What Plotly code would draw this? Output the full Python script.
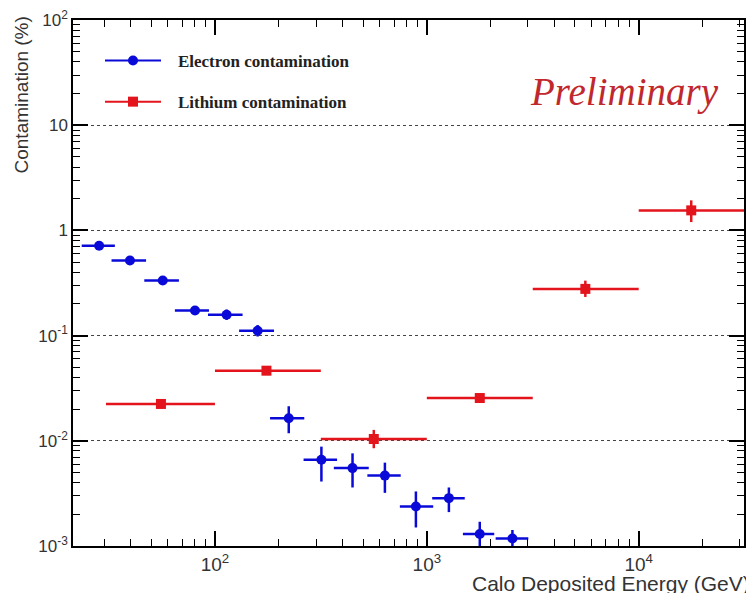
import plotly.graph_objects as go

# ---------------- data (GeV, %) ----------------
e_x = [28.4, 39.7, 56.7, 80.5, 113.5, 159, 223, 318, 446, 634, 888, 1271, 1778, 2535]
e_xlo = [23.5, 32.5, 46.4, 64.7, 92.7, 130, 182, 262, 364, 524, 746, 1060, 1480, 2113]
e_xhi = [33.7, 47.3, 67.6, 93.7, 135, 190, 264, 377, 532, 753, 1072, 1510, 2080, 3013]
e_y = [0.715, 0.518, 0.334, 0.173, 0.158, 0.111, 0.0164, 0.0066, 0.0055, 0.00467, 0.00237, 0.00285, 0.0013, 0.00118]
e_yhi = [0.765, 0.55, 0.355, 0.186, 0.177, 0.126, 0.0213, 0.0088, 0.0076, 0.0062, 0.0033, 0.0036, 0.0017, 0.00142]
e_ylo = [0.67, 0.49, 0.312, 0.161, 0.141, 0.098, 0.0118, 0.0041, 0.0036, 0.0032, 0.0015, 0.0021, 0.00095, 0.0009]

li_x = [55.6, 175, 562, 1778, 5600, 17700]
li_xlo = [30.6, 100, 316, 1000, 3162, 10000]
li_xhi = [100, 316, 1000, 3162, 10000, 31623]
li_y = [0.0224, 0.0464, 0.0104, 0.0255, 0.278, 1.55]
li_yhi = [0.0235, 0.0485, 0.0127, 0.0268, 0.333, 1.93]
li_ylo = [0.0213, 0.0443, 0.0085, 0.0242, 0.233, 1.2]

x_tickvals = [100, 1000, 10000]
x_ticktext = ["10<sup>2</sup>", "10<sup>3</sup>", "10<sup>4</sup>"]
y_tickvals = [0.001, 0.01, 0.1, 1, 10, 100]
y_ticktext = ["10<sup>-3</sup>", "10<sup>-2</sup>", "10<sup>-1</sup>", "1", "10", "10<sup>2</sup>"]

series_names = ["Electron contamination", "Lithium contamination"]

BLUE = "#0a0ad8"
RED = "#e3141c"

X_RANGE = [1.33, 4.497]
Y_RANGE = [-3, 2]


def err(vals, lo, hi):
    plus = [h - v for v, h in zip(vals, hi)]
    minus = [v - l for v, l in zip(vals, lo)]
    return plus, minus


fig = go.Figure()

# plain frame subplot (x2/y2) that carries the ROOT-style inside ticks
fig.add_trace(go.Scatter(
    x=e_x[:1], y=e_y[:1], xaxis="x2", yaxis="y2", mode="markers",
    marker=dict(opacity=0, size=1), showlegend=False, hoverinfo="skip",
))

for name, xs, xlo, xhi, ys, ylo, yhi, col, sym in [
    (series_names[0], e_x, e_xlo, e_xhi, e_y, e_ylo, e_yhi, BLUE, "circle"),
    (series_names[1], li_x, li_xlo, li_xhi, li_y, li_ylo, li_yhi, RED, "square"),
]:
    xp, xm = err(xs, xlo, xhi)
    yp, ym = err(ys, ylo, yhi)
    fig.add_trace(go.Scatter(
        x=xs, y=ys, mode="markers", showlegend=False,
        marker=dict(symbol=sym, size=10, color=col),
        error_x=dict(type="data", symmetric=False, array=xp, arrayminus=xm,
                     color=col, thickness=2.5, width=0),
        error_y=dict(type="data", symmetric=False, array=yp, arrayminus=ym,
                     color=col, thickness=2.5, width=0),
    ))

# legend entries
for i, (name, col, sym) in enumerate([(series_names[0], BLUE, "circle"),
                                       (series_names[1], RED, "square")]):
    fig.add_trace(go.Scatter(
        x=[None], y=[None], mode="lines+markers",
        name="\u2002\u2009<b>" + name + "</b>",
        legendgroup="g%d" % i,
        line=dict(color=col, width=2),
        marker=dict(symbol=sym, size=10, color=col),
    ))

L, R, T, B = 73, 2, 20, 47
W, H = 746, 593
pw, ph = W - L - R, H - T - B


def px(xp):
    return (xp - L) / pw


def py(yp):
    return (H - B - yp) / ph


TICKCOL = "black"

fig.update_layout(
    xaxis=dict(
        type="log", range=X_RANGE, showline=True, linecolor="black", linewidth=1.5,
        mirror="allticks", ticks="inside", ticklen=15, tickwidth=1.5, tickcolor=TICKCOL,
        tickmode="array", tickvals=x_tickvals, ticktext=x_ticktext, showgrid=False,
        zeroline=False,
        tickfont=dict(family="Liberation Sans, Arial", color="#333333", size=19),
        minor=dict(ticks="inside", ticklen=7, tickwidth=1.2, tickcolor=TICKCOL,
                   dtick="D1", showgrid=False),
    ),
    yaxis=dict(
        type="log", range=Y_RANGE, showline=True, linecolor="black", linewidth=1.5,
        mirror="allticks", ticks="inside", ticklen=15, tickwidth=1.5, tickcolor=TICKCOL,
        tickmode="array", tickvals=y_tickvals, ticktext=y_ticktext,
        showgrid=True, gridcolor="#444444", griddash="dot", zeroline=False,
        tickfont=dict(family="Liberation Sans, Arial", color="#333333", size=17),
        minor=dict(ticks="inside", ticklen=7, tickwidth=1.2, tickcolor=TICKCOL,
                   dtick="D1", showgrid=False),
    ),
    xaxis2=dict(
        type="log", range=X_RANGE, overlaying="x", anchor="y2", side="bottom",
        showline=True, linecolor="black", linewidth=1.5, mirror="allticks",
        ticks="inside", ticklen=15, tickwidth=1.5, tickcolor=TICKCOL,
        tickvals=x_tickvals, showticklabels=False, showgrid=False, zeroline=False,
        minor=dict(ticks="inside", ticklen=7, tickwidth=1.2, tickcolor=TICKCOL,
                   dtick="D1", showgrid=False),
    ),
    yaxis2=dict(
        type="log", range=Y_RANGE, overlaying="y", anchor="x2", side="left",
        showline=True, linecolor="black", linewidth=1.5, mirror="allticks",
        ticks="inside", ticklen=15, tickwidth=1.5, tickcolor=TICKCOL,
        tickvals=y_tickvals, showticklabels=False, showgrid=False, zeroline=False,
        minor=dict(ticks="inside", ticklen=7, tickwidth=1.2, tickcolor=TICKCOL,
                   dtick="D1", showgrid=False),
    ),
    width=W, height=H,
    margin=dict(l=L, r=R, t=T, b=B, autoexpand=False),
    plot_bgcolor="white", paper_bgcolor="white",
    legend=dict(
        x=px(100), y=py(43), xanchor="left", yanchor="top",
        bgcolor="rgba(0,0,0,0)", traceorder="grouped", tracegroupgap=16,
        font=dict(family="Liberation Serif, Times New Roman", size=17, color="#222222"),
        itemwidth=56,
    ),
    annotations=[
        dict(text="<i>Preliminary</i>", xref="paper", yref="paper",
             x=px(721), y=py(92), xanchor="right", yanchor="middle", showarrow=False,
             font=dict(family="Liberation Serif, Times New Roman", size=39, color="#c0282d")),
        dict(text="Contamination (%)", xref="paper", yref="paper", textangle=-90,
             x=px(21), y=py(15), xanchor="center", yanchor="top", showarrow=False,
             font=dict(family="Liberation Sans, Arial", size=19, color="#333333")),
        dict(text="Calo Deposited Energy (GeV)", xref="paper", yref="paper",
             x=px(752), y=py(570), xanchor="right", yanchor="top", showarrow=False,
             font=dict(family="Liberation Sans, Arial", size=21, color="#333333")),
    ],
)

fig.write_html("out.html")
